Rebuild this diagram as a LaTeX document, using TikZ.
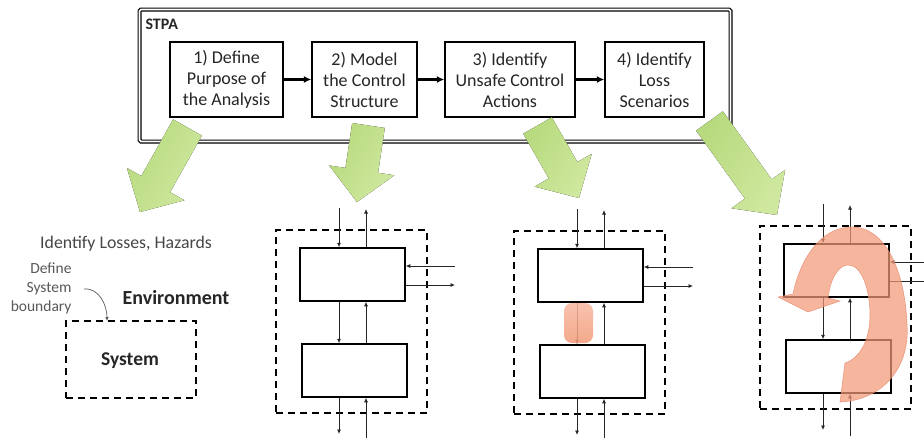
\documentclass[tikz,border=0pt]{standalone}
\usepackage{fontspec}
\setmainfont{Carlito}
\usetikzlibrary{arrows.meta,calc,shapes.geometric}
\definecolor{txt}{HTML}{262626}
\definecolor{graytxt}{HTML}{595959}
\definecolor{gdark}{HTML}{B8DA7E}
\definecolor{glight}{HTML}{CFE89F}
\definecolor{orfill}{HTML}{F39A78}
\definecolor{oredge}{HTML}{E7866A}
\newcommand\garrow[3]{%
  \coordinate (#1s) at #2; \coordinate (#1t) at #3;
  \coordinate (#1b) at ($(#1t)!32pt!(#1s)$);
  \fill[greenarrow] ($(#1s)!16.5pt!90:(#1t)$) -- ($(#1b)!16.5pt!90:(#1t)$) -- ($(#1b)!33pt!90:(#1t)$) -- (#1t)
     -- ($(#1b)!33pt!-90:(#1t)$) -- ($(#1b)!16.5pt!-90:(#1t)$) -- ($(#1s)!16.5pt!-90:(#1t)$) -- cycle;}
\newcommand\ctrlstruct[3]{% #1 prefix, #2 shift, #3 right end x (local)
  \begin{scope}[shift={#2}, name prefix=#1]
    \node[dashbox, minimum width=151pt, minimum height=183pt] (env) at (351.5,321.5) {};
    \node[blk] (up) at (352.5,274.5) {};
    \node[blk] (lo) at (354.5,370.5) {};
    \coordinate (ti) at (339,208);
    \coordinate (uo) at (366,209);
    \coordinate (ri) at (#3,266);
    \coordinate (ro) at (#3,285);
    \coordinate (bo) at (339,434);
    \coordinate (bi) at (366,440);
    \draw[thinarr] (ti) -- (ti |- up.north);
    \draw[thinarr] (up.north -| uo) -- (uo);
    \draw[thinarr] (up.south -| ti) -- (lo.north -| ti);
    \draw[thinarr] (lo.north -| uo) -- (up.south -| uo);
    \draw[thinarr] (ri) -- (ri -| up.east);
    \draw[thinarr] (ro -| up.east) -- (ro);
    \draw[thinarr] (lo.south -| bo) -- (bo);
    \draw[thinarr] (bi) -- (lo.south -| bi);
  \end{scope}}
\tikzset{
  stepbox/.style={draw=black, line width=1.3pt, fill=white, minimum height=75pt, inner sep=0pt,
    align=center, text=txt, font=\fontsize{18}{21}\selectfont},
  steparr/.style={line width=2.4pt, -{Latex[length=7.5pt,width=7pt]}},
  greenarrow/.style={left color=gdark, right color=glight, shading angle=60},
  dashbox/.style={draw=black, line width=1.8pt, dash pattern=on 7pt off 5pt, inner sep=0pt},
  blk/.style={draw=black, line width=1.5pt, minimum width=105pt, minimum height=53pt, inner sep=0pt},
  thinarr/.style={draw=black!85, line width=0.8pt, -{Latex[length=4.5pt,width=4pt]}},
}
\begin{document}
\begin{tikzpicture}[x=1pt,y=-1pt]
\useasboundingbox (0,0) rectangle (924,437);
\fill[white] (0,0) rectangle (924,437);
% STPA frame
\node[draw=black, line width=1.2pt, double=white, double distance=1.6pt, rounded corners=1.5pt,
  minimum width=591pt, minimum height=132pt, inner sep=0pt] (stpa) at (435,75.5) {};
\node[anchor=west, font=\fontsize{16}{18}\selectfont\bfseries, text=txt] (stpalbl) at (142,24) {STPA};
\node[stepbox, minimum width=113pt] (s1) at (226.5,79.5) {1) Define\\Purpose of\\the Analysis};
\node[stepbox, minimum width=105pt] (s2) at (364.5,79.5) {2) Model\\the Control\\Structure};
\node[stepbox, minimum width=130pt] (s3) at (510,79.5) {3) Identify\\Unsafe Control\\Actions};
\node[stepbox, minimum width=99pt] (s4) at (654.5,79.5) {4) Identify\\Loss\\Scenarios};
\draw[steparr] (s1.east) -- (s2.west);
\draw[steparr] (s2.east) -- (s3.west);
\draw[steparr] (s3.east) -- (s4.west);
% green arrows
\garrow{ga}{(187.5,127.5)}{(140,212)}
\garrow{gb}{(368.5,125.5)}{(357,202)}
\garrow{gc}{(537.5,125.5)}{(579,198)}
\garrow{gd}{(709.5,121)}{(777,215)}
% panel 1
\node[font=\fontsize{17.8}{20}\selectfont, text=txt!85] (losses) at (126,244) {Identify Losses, Hazards};
\node[font=\fontsize{15.5}{19}\selectfont, text=graytxt, align=right, anchor=east] (defsys) at (75,288) {Define\\System\\boundary};
\node[font=\fontsize{20}{22}\selectfont\bfseries, text=txt] (envlbl) at (176,298) {Environment};
\node[dashbox, minimum width=130pt, minimum height=77pt] (sys) at (131,359.5) {};
\node[font=\fontsize{19.5}{22}\selectfont\bfseries, text=txt] (syslbl) at (130,361) {System};
\coordinate (bnd) at (107,321);
\draw[graytxt, line width=0.7pt, -{Latex[length=4pt,width=3.5pt]}] (84,289) to[out=5, in=90] (bnd);
% control structures
\ctrlstruct{c2-}{(0,0)}{455}
\ctrlstruct{c3-}{(238,1)}{455}
\ctrlstruct{c4-}{(484,-4)}{445}
% highlight in structure 3
\node[draw=none, rounded corners=8pt, minimum width=29pt, minimum height=40pt, inner sep=0pt,
  top color=orfill!70, bottom color=orfill, opacity=0.85] (uca) at (578.5,323) {};
% loss scenario curved arrow
\fill[orfill, opacity=0.72, draw=oredge, line width=0.6pt]
  (840,402) .. controls (885,400) and (910,365) .. (907,325)
  .. controls (905,270) and (885,227) .. (852,227)
  .. controls (820,227) and (800,260) .. (793,294)
  -- (778,297) -- (808,312) -- (840,301) -- (828,298)
  .. controls (830,280) and (838,265) .. (848,265)
  .. controls (862,265) and (870,290) .. (870,315)
  .. controls (870,340) and (860,358) .. (845,363) -- cycle;
\end{tikzpicture}
\end{document}
